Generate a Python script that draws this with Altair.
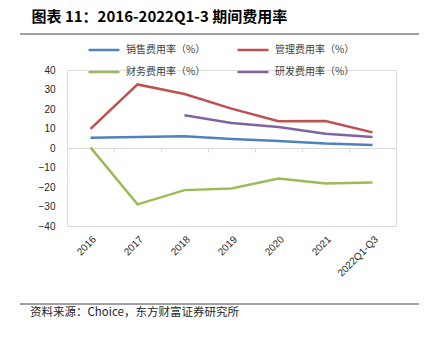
import altair as alt
import pandas as pd

periods = ["2016", "2017", "2018", "2019", "2020", "2021", "2022Q1-Q3"]
sales = [5.3, 5.7, 6.0, 4.6, 3.6, 2.3, 1.6]
admin = [9.8, 32.6, 27.7, 20.2, 13.7, 13.8, 8.0]
finance = [0.3, -28.9, -21.6, -20.8, -15.6, -18.2, -17.7]
rnd = [None, None, 16.8, 12.8, 10.8, 7.3, 5.7]

series_names = ["销售费用率（%）", "财务费用率（%）", "管理费用率（%）", "研发费用率（%）"]
series_colors = ["#4F81BD", "#9BBB59", "#C0504D", "#8064A2"]

rows = []
for name, vals in zip(series_names, [sales, finance, admin, rnd]):
    for p, v in zip(periods, vals):
        if v is not None:
            rows.append({"period": p, "series": name, "value": v})
df = pd.DataFrame(rows)

W, H = 329, 156

lines = alt.Chart(df).mark_line(strokeWidth=2.5).encode(
    x=alt.X("period:N", sort=periods, bandPosition=0.5, title=None,
            scale=alt.Scale(paddingInner=0, paddingOuter=0),
            axis=alt.Axis(offset=-78, domainColor="#D9D9D9", tickColor="#D9D9D9",
                          tickSize=4, tickBand="extent", labelAngle=-45,
                          labelPadding=82, labelFont="Liberation Sans", labelFontSize=10,
                          labelColor="#262626", labelOverlap=False)),
    y=alt.Y("value:Q", title=None,
            scale=alt.Scale(domain=[-40, 40], nice=False),
            axis=alt.Axis(values=[-40, -30, -20, -10, 0, 10, 20, 30, 40], grid=False,
                          domain=False, ticks=False, labelPadding=12,
                          labelFont="Liberation Sans", labelFontSize=10, labelColor="#262626")),
    color=alt.Color("series:N", sort=series_names,
                    scale=alt.Scale(domain=series_names, range=series_colors),
                    legend=alt.Legend(title=None, orient="none", legendX=20, legendY=-37,
                                      columns=2, columnPadding=26, rowPadding=-5,
                                      symbolType="stroke", symbolSize=961,
                                      symbolStrokeWidth=2.5, labelOffset=5,
                                      labelFont="Noto Sans CJK SC", labelFontSize=10,
                                      labelColor="#404040")),
)

top_rule = alt.Chart().mark_rule(color="#404040", strokeWidth=1).encode(
    x=alt.value(-47), x2=alt.value(352), y=alt.value(-36))
bottom_rule = alt.Chart().mark_rule(color="#404040", strokeWidth=1).encode(
    x=alt.value(-47), x2=alt.value(352), y=alt.value(234))
source = alt.Chart().mark_text(align="left", baseline="middle", font="Noto Sans CJK SC",
                               fontSize=11.5, color="#262626").encode(
    x=alt.value(-37), y=alt.value(243), text=alt.value("资料来源：Choice，东方财富证券研究所"))

chart = alt.layer(lines, top_rule, bottom_rule, source).properties(
    width=W, height=H,
    title=alt.TitleParams("图表 11：2016-2022Q1-3 期间费用率", anchor="start",
                          font="Noto Sans CJK SC", fontSize=15, fontWeight="bold",
                          color="#000000", dx=12, dy=-4),
    autosize=alt.AutoSizeParams(type="none"),
    padding={"left": 67, "top": 70, "right": 33, "bottom": 111},
).configure_view(stroke=None).configure(background="white")

chart.save("out.html", embed_options={"renderer": "svg", "actions": False})
